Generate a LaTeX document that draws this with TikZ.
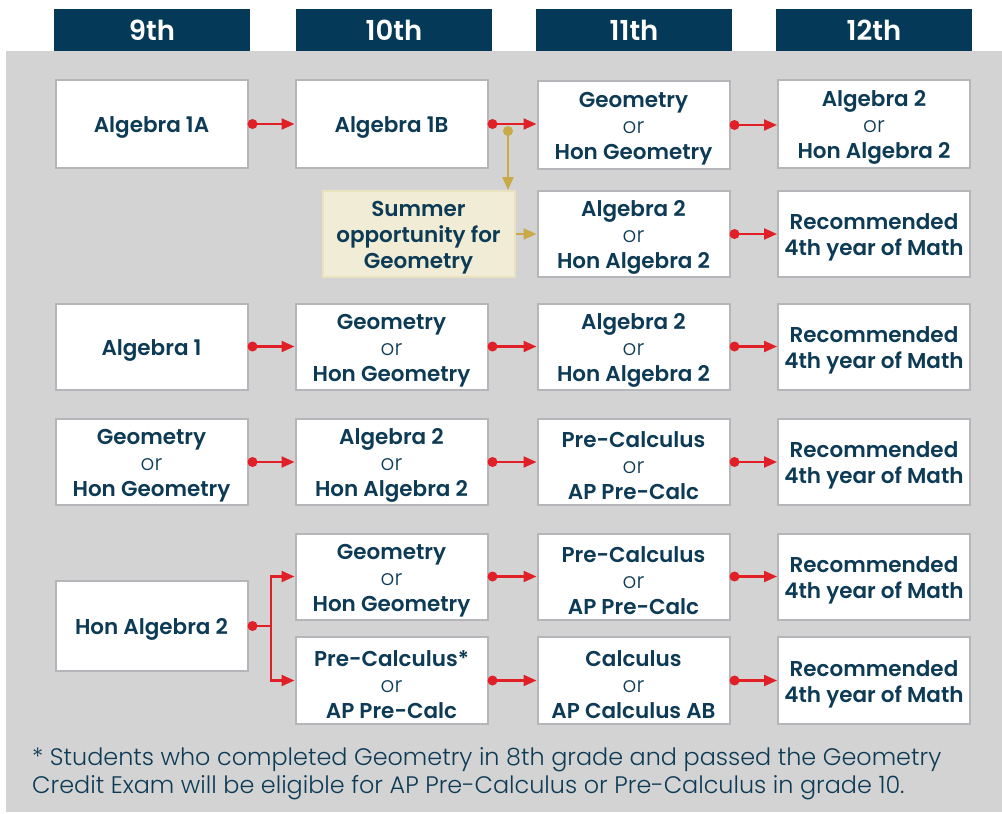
\documentclass[tikz,border=0pt]{standalone}
\usepackage{fontspec}
\setmainfont{Poppins}[BoldFont={Poppins SemiBold}]
\newfontfamily\lightfont{Poppins Light}
\usetikzlibrary{arrows.meta}
\definecolor{navy}{HTML}{043A57}
\definecolor{txt}{HTML}{0D3B56}
\definecolor{bggray}{HTML}{D3D3D3}
\definecolor{boxgray}{HTML}{B6B6BA}
\definecolor{redc}{HTML}{E01F27}
\definecolor{goldc}{HTML}{C8AA48}
\definecolor{sumfill}{HTML}{F1ECD6}
\definecolor{sumdraw}{HTML}{E9E1BF}
\newcommand\ortext{{\lightfont\mdseries or}}
\newcommand\toprule{\rule{0pt}{23.5pt}}
\tikzset{
  hdr/.style={fill=navy, text=white, minimum width=196pt, minimum height=42pt, inner sep=0pt, font=\fontsize{27.5}{30}\selectfont\bfseries},
  box/.style={draw=boxgray, line width=2pt, fill=white, minimum width=192pt, minimum height=86pt, inner sep=0pt, align=center, text=txt, font=\fontsize{21.5}{26}\selectfont\bfseries},
  onebox/.style={box, execute at begin node={\rule{0pt}{23pt}}},
  sumbox/.style={box, draw=sumdraw, fill=sumfill},
  redarr/.style={draw=redc, line width=2.2pt, -{Triangle[length=13pt,width=11pt]}},
  goldarr/.style={draw=goldc, line width=2.2pt, -{Triangle[length=13pt,width=11pt]}},
  foot/.style={anchor=base west, inner sep=0pt, text=txt, font=\lightfont\fontsize{23.9}{28}\selectfont}
}
\begin{document}
\begin{tikzpicture}[x=1pt,y=-1pt]
\useasboundingbox (0,0) rectangle (1002,814);
\fill[white] (0,0) rectangle (1002,814);
\fill[bggray] (6,51) rectangle (1002,812);
% headers
\node[hdr] (h9)  at (152,30) {9th};
\node[hdr] (h10) at (394,30) {10th};
\node[hdr] (h11) at (634,30) {11th};
\node[hdr] (h12) at (874,30) {12th};
% row 1
\node[onebox, minimum height=88pt] (a1a) at (151.5,124) {Algebra 1A};
\node[onebox, minimum height=88pt] (a1b) at (391.5,124) {Algebra 1B};
\node[box, minimum height=88pt] (r1c3) at (633.5,125) {\toprule Geometry\\\ortext\\Hon Geometry};
\node[box, minimum height=88pt] (r1c4) at (874,124) {\toprule Algebra 2\\\ortext\\Hon Algebra 2};
% row 2
\node[sumbox] (sum) at (418.5,234) {\toprule Summer\\opportunity for\\Geometry};
\node[box] (r2c3) at (633.5,234) {\toprule Algebra 2\\\ortext\\Hon Algebra 2};
\node[box] (r2c4) at (874,234) {\toprule Recommended\\4th year of Math};
% row 3
\node[onebox] (r3c1) at (151.5,346.5) {Algebra 1};
\node[box] (r3c2) at (391.5,346.5) {\toprule Geometry\\\ortext\\Hon Geometry};
\node[box] (r3c3) at (633.5,346.5) {\toprule Algebra 2\\\ortext\\Hon Algebra 2};
\node[box] (r3c4) at (874,346.5) {\toprule Recommended\\4th year of Math};
% row 4
\node[box] (r4c1) at (151.5,462) {\toprule Geometry\\\ortext\\Hon Geometry};
\node[box] (r4c2) at (391.5,462) {\toprule Algebra 2\\\ortext\\Hon Algebra 2};
\node[box] (r4c3) at (633.5,462) {\toprule Pre-Calculus\\\ortext\\AP Pre-Calc};
\node[box] (r4c4) at (874,462) {\toprule Recommended\\4th year of Math};
% row 5
\node[onebox, minimum height=90pt] (r5c1) at (151.5,626) {Hon Algebra 2};
\node[box] (r5ac2) at (391.5,576.5) {\toprule Geometry\\\ortext\\Hon Geometry};
\node[box] (r5ac3) at (633.5,576.5) {\toprule Pre-Calculus\\\ortext\\AP Pre-Calc};
\node[box] (r5ac4) at (874,576.5) {\toprule Recommended\\4th year of Math};
\node[box, minimum height=87pt] (r5bc2) at (391.5,680.5) {\toprule Pre-Calculus*\\\ortext\\AP Pre-Calc};
\node[box, minimum height=87pt] (r5bc3) at (633.5,680.5) {\toprule Calculus\\\ortext\\AP Calculus AB};
\node[box, minimum height=87pt] (r5bc4) at (874,680.5) {\toprule Recommended\\4th year of Math};
% straight red connectors
\foreach \a/\b in {a1a/a1b, a1b/r1c3, r1c3/r1c4, r2c3/r2c4,
                   r3c1/r3c2, r3c2/r3c3, r3c3/r3c4,
                   r4c1/r4c2, r4c2/r4c3, r4c3/r4c4,
                   r5ac2/r5ac3, r5ac3/r5ac4, r5bc2/r5bc3, r5bc3/r5bc4}{
  \draw[redarr] ([xshift=4pt]\a.east) -- (\a.east -| \b.west);
  \fill[redc] ([xshift=4pt]\a.east) circle (5pt);
}
% summer branch
\coordinate (g1) at (508,131);
\draw[goldarr] (g1) -- (g1 |- sum.north);
\fill[goldc] (g1) circle (5pt);
\draw[goldarr] (sum.east) -- (sum.east -| r2c3.west);
% Hon Algebra 2 branch
\coordinate (hs) at ([xshift=4pt]r5c1.east);
\coordinate (hj) at (271,626);
\draw[redc, line width=2.2pt] (hs) -- (hj);
\draw[redarr] (hj) -- (hj |- r5ac2.west) -- (r5ac2.west);
\draw[redarr] (hj) -- (hj |- r5bc2.west) -- (r5bc2.west);
\fill[redc] (hs) circle (5pt);
% footnote
\node[foot] (fn1) at (32,765) {* Students who completed Geometry in 8th grade and passed the Geometry};
\node[foot] (fn2) at (32,793) {Credit Exam will be eligible for AP Pre-Calculus or Pre-Calculus in grade 10.};
\end{tikzpicture}
\end{document}
